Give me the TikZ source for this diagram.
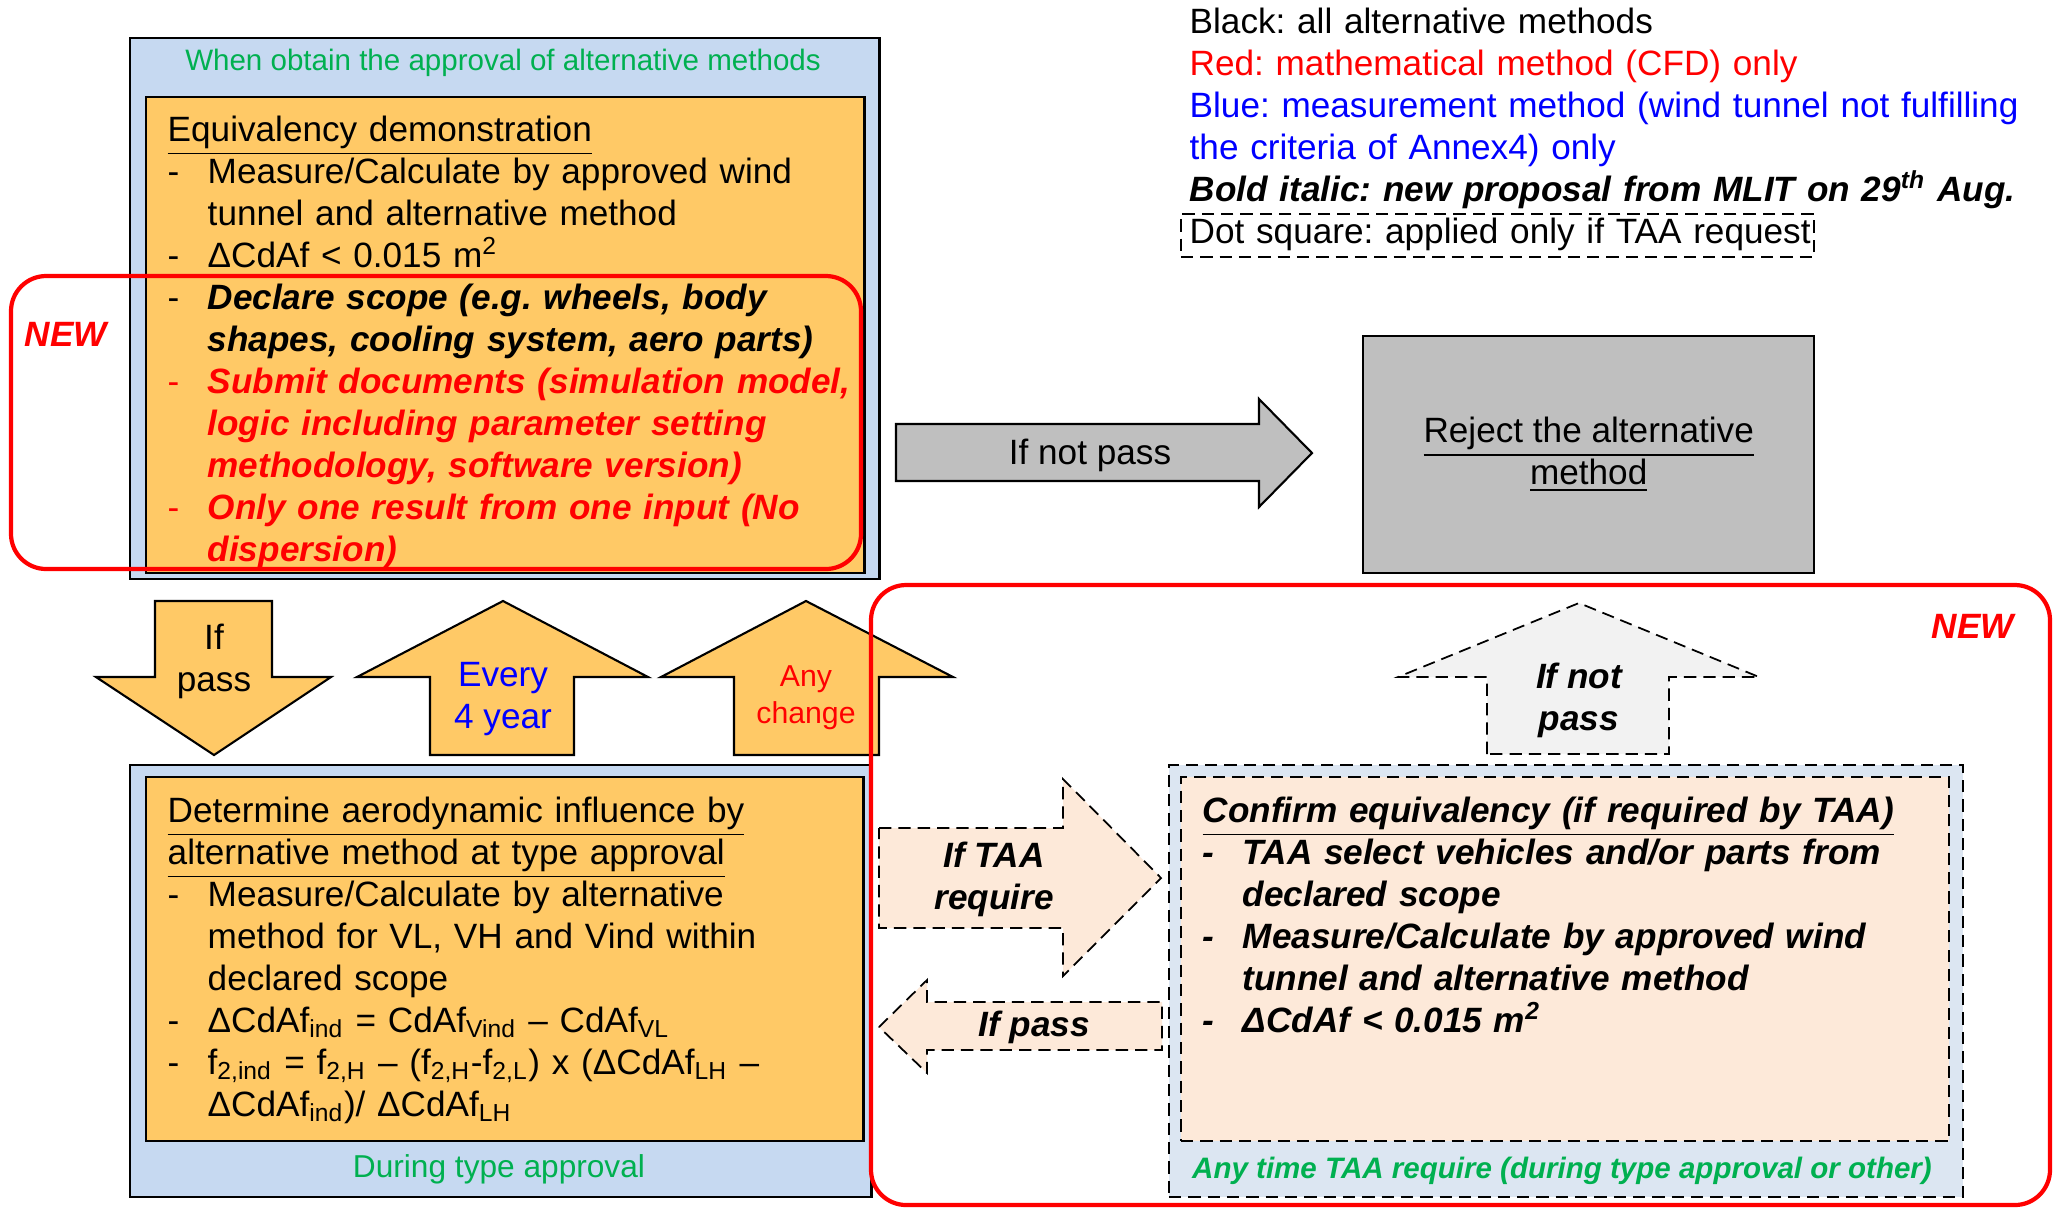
\documentclass[tikz,border=0pt]{standalone}
\usepackage{fontspec}
\setmainfont{Liberation Sans}
\definecolor{bluefill}{HTML}{C6D9F1}
\definecolor{orangefill}{HTML}{FFC966}
\definecolor{peachfill}{HTML}{FDE9D9}
\definecolor{paleblue}{HTML}{DCE6F2}
\definecolor{greyfill}{HTML}{BFBFBF}
\definecolor{palegrey}{HTML}{F2F2F2}
\definecolor{greentext}{HTML}{00B050}
\definecolor{redtext}{HTML}{FF0000}
\definecolor{bluetext}{HTML}{0000FF}
\newcommand{\mainsize}{\fontsize{10}{11.95}\selectfont\frenchspacing}
\newcommand{\smallsize}{\fontsize{8.4}{10}\selectfont}
\newlength{\dashind}
\setlength{\dashind}{0.4cm}
\newcommand{\dashitem}[2][black]{\par\hangindent=\dashind\hangafter=1\noindent{\color{#1}\makebox[\dashind][l]{-}#2}}
\newcommand{\bi}[1]{\textbf{\textit{#1}}}
\tikzstyle{bluebox}=[rectangle, draw=black, line width=0.6pt, fill=bluefill, inner sep=0pt]
\tikzstyle{orangebox}=[rectangle, draw=black, line width=0.6pt, fill=orangefill, inner sep=0pt]
\tikzstyle{greybox}=[rectangle, draw=black, line width=0.6pt, fill=greyfill, inner sep=0pt, align=center, font=\mainsize]
\tikzstyle{dashline}=[line width=0.5pt, dash pattern=on 3.5pt off 2pt]
\tikzstyle{taaouter}=[rectangle, draw=black, dashline, fill=paleblue, inner sep=0pt]
\tikzstyle{taainner}=[rectangle, draw=black, dashline, fill=peachfill, inner sep=0pt]
\tikzstyle{dotkey}=[rectangle, draw=black, dashline, inner sep=0pt]
\tikzstyle{boxtext}=[inner sep=0pt, text width=6.9cm, align=left, font=\mainsize]
\tikzstyle{greenlabel}=[inner sep=0pt, text=greentext, font=\smallsize]
\tikzstyle{orangearrow}=[draw=black, line width=0.6pt, fill=orangefill]
\tikzstyle{greyarrow}=[draw=black, line width=0.6pt, fill=greyfill]
\tikzstyle{taaarrow}=[draw=black, dashline, fill=peachfill]
\tikzstyle{arrowtext}=[inner sep=0pt, align=center, font=\mainsize]
\tikzstyle{newframe}=[draw=redtext, line width=1.2pt, rounded corners=10pt]
\tikzstyle{newlabel}=[inner sep=0pt, text=redtext, font=\mainsize\bfseries\itshape]

\begin{document}
\begin{tikzpicture}[x=0.01cm,y=-0.01cm]
\fill[white] (0,0) rectangle (2060,1208);
\useasboundingbox (0,0) rectangle (2060,1208);

% colour key
\node[boxtext, text width=8.6cm, anchor=base west] (legend) at (1189,33)
{Black: all alternative methods\\
 \textcolor{redtext}{Red: mathematical method (CFD) only}\\
 \textcolor{bluetext}{Blue: measurement method (wind tunnel not fulfilling\\ the criteria of Annex4) only}\\
 \bi{Bold italic: new proposal from MLIT on 29\textsuperscript{th} Aug.}\\
 Dot square: applied only if TAA request};
\node[dotkey, anchor=north west, minimum width=6.33cm, minimum height=0.43cm] (dotsquare) at (1180,213) {};

% approval of the alternative method
\node[bluebox, anchor=north west, minimum width=7.49cm, minimum height=5.41cm] (approval) at (129,37) {};
\node[greenlabel] (approvalttl) at (503,63) {When obtain the approval of alternative methods};
\node[orangebox, anchor=north west, minimum width=7.18cm, minimum height=4.76cm] (equiv) at (145,96) {};
\node[boxtext, anchor=base west] (equivtext) at (167,141)
{\noindent\underline{Equivalency demonstration}
 \dashitem{Measure/Calculate by approved wind\newline tunnel and alternative method}
 \dashitem{ΔCdAf < 0.015 m\textsuperscript{2}}
 \dashitem{\bi{Declare scope (e.g. wheels, body\newline shapes, cooling system, aero parts)}}
 \dashitem[redtext]{\bi{Submit documents (simulation model,\newline logic including parameter setting\newline methodology, software version)}}
 \dashitem[redtext]{\bi{Only one result from one input (No\newline dispersion)}}\par};

% rejection
\draw[greyarrow] (896,424) -- (1259,424) -- (1259,399) -- (1312,453) -- (1259,507) -- (1259,481) -- (896,481) -- cycle;
\node[arrowtext] (notpass) at (1090,455) {If not pass};
\node[greybox, anchor=north west, minimum width=4.51cm, minimum height=2.37cm] (reject) at (1362,335)
{\underline{Reject the alternative}\\ \underline{method}};

% arrows between the two stages
\draw[orangearrow] (155,601) -- (272,601) -- (272,677) -- (331,677) -- (214,755) -- (96,677) -- (155,677) -- cycle;
\node[arrowtext] (ifpass) at (214,661) {If\\ pass};
\draw[orangearrow] (430,755) -- (430,677) -- (357,677) -- (503,601) -- (648,677) -- (574,677) -- (574,755) -- cycle;
\node[arrowtext, text=bluetext] (everyyear) at (503,699) {Every\\ 4 year};
\draw[orangearrow] (734,755) -- (734,677) -- (661,677) -- (806,601) -- (953,677) -- (879,677) -- (879,755) -- cycle;
\node[arrowtext, text=redtext, font=\fontsize{8.6}{10.4}\selectfont] (anychange) at (806,698) {Any\\ change};

% type approval
\node[bluebox, anchor=north west, minimum width=7.41cm, minimum height=4.32cm] (typeappr) at (129,764) {};
\node[orangebox, anchor=north west, minimum width=7.17cm, minimum height=3.64cm] (aero) at (145,776) {};
\node[greenlabel, font=\fontsize{9}{11}\selectfont] (typeapprttl) at (499,1169) {During type approval};
\node[boxtext, anchor=base west] (aerotext) at (167,822)
{\noindent\underline{Determine aerodynamic influence by}\\ \underline{alternative method at type approval}
 \dashitem{Measure/Calculate by alternative\newline method for VL, VH and Vind within\newline declared scope}
 \dashitem{ΔCdAf\textsubscript{ind} = CdAf\textsubscript{Vind} – CdAf\textsubscript{VL}}
 \dashitem{f\textsubscript{2,ind} = f\textsubscript{2,H} – (f\textsubscript{2,H}-f\textsubscript{2,L}) x (ΔCdAf\textsubscript{LH} –\newline ΔCdAf\textsubscript{ind})/ ΔCdAf\textsubscript{LH}}\par};

% confirmation on TAA request
\node[taaouter, anchor=north west, minimum width=7.94cm, minimum height=4.32cm] (taa) at (1168,764) {};
\node[taainner, anchor=north west, minimum width=7.68cm, minimum height=3.64cm] (confirm) at (1180,776) {};
\node[boxtext, anchor=base west, text width=7.3cm, font=\mainsize\bfseries\itshape] (conftext) at (1202,822)
{\noindent\underline{Confirm equivalency (if required by TAA)}
 \dashitem{TAA select vehicles and/or parts from\newline declared scope}
 \dashitem{Measure/Calculate by approved wind\newline tunnel and alternative method}
 \dashitem{ΔCdAf < 0.015 m\textsuperscript{2}}\par};
\node[greenlabel, font=\smallsize\bfseries\itshape] (taattl) at (1562,1171) {Any time TAA require (during type approval or other)};

\draw[taaarrow, fill=palegrey] (1487,754) -- (1487,677) -- (1398,677) -- (1579,603) -- (1759,677) -- (1669,677) -- (1669,754) -- cycle;
\node[arrowtext, font=\mainsize\bfseries\itshape] (taanotpass) at (1579,700) {If not\\ pass};
\draw[taaarrow] (879,828) -- (1063,828) -- (1063,779) -- (1161,878) -- (1063,976) -- (1063,928) -- (879,928) -- cycle;
\node[arrowtext, font=\mainsize\bfseries\itshape] (taarequire) at (994,879) {If TAA\\ require};
\draw[taaarrow] (879,1027) -- (927,980) -- (927,1002) -- (1162,1002) -- (1162,1050) -- (927,1050) -- (927,1073) -- cycle;
\node[arrowtext, font=\mainsize\bfseries\itshape] (taapass) at (1034,1027) {If pass};

% new items
\draw[newframe] (11,276) rectangle (861,569);
\draw[newframe] (871,585) rectangle (2050,1205);
\node[newlabel] (newtop) at (66,334) {NEW};
\node[newlabel] (newtaa) at (1973,626) {NEW};
\end{tikzpicture}
\end{document}
